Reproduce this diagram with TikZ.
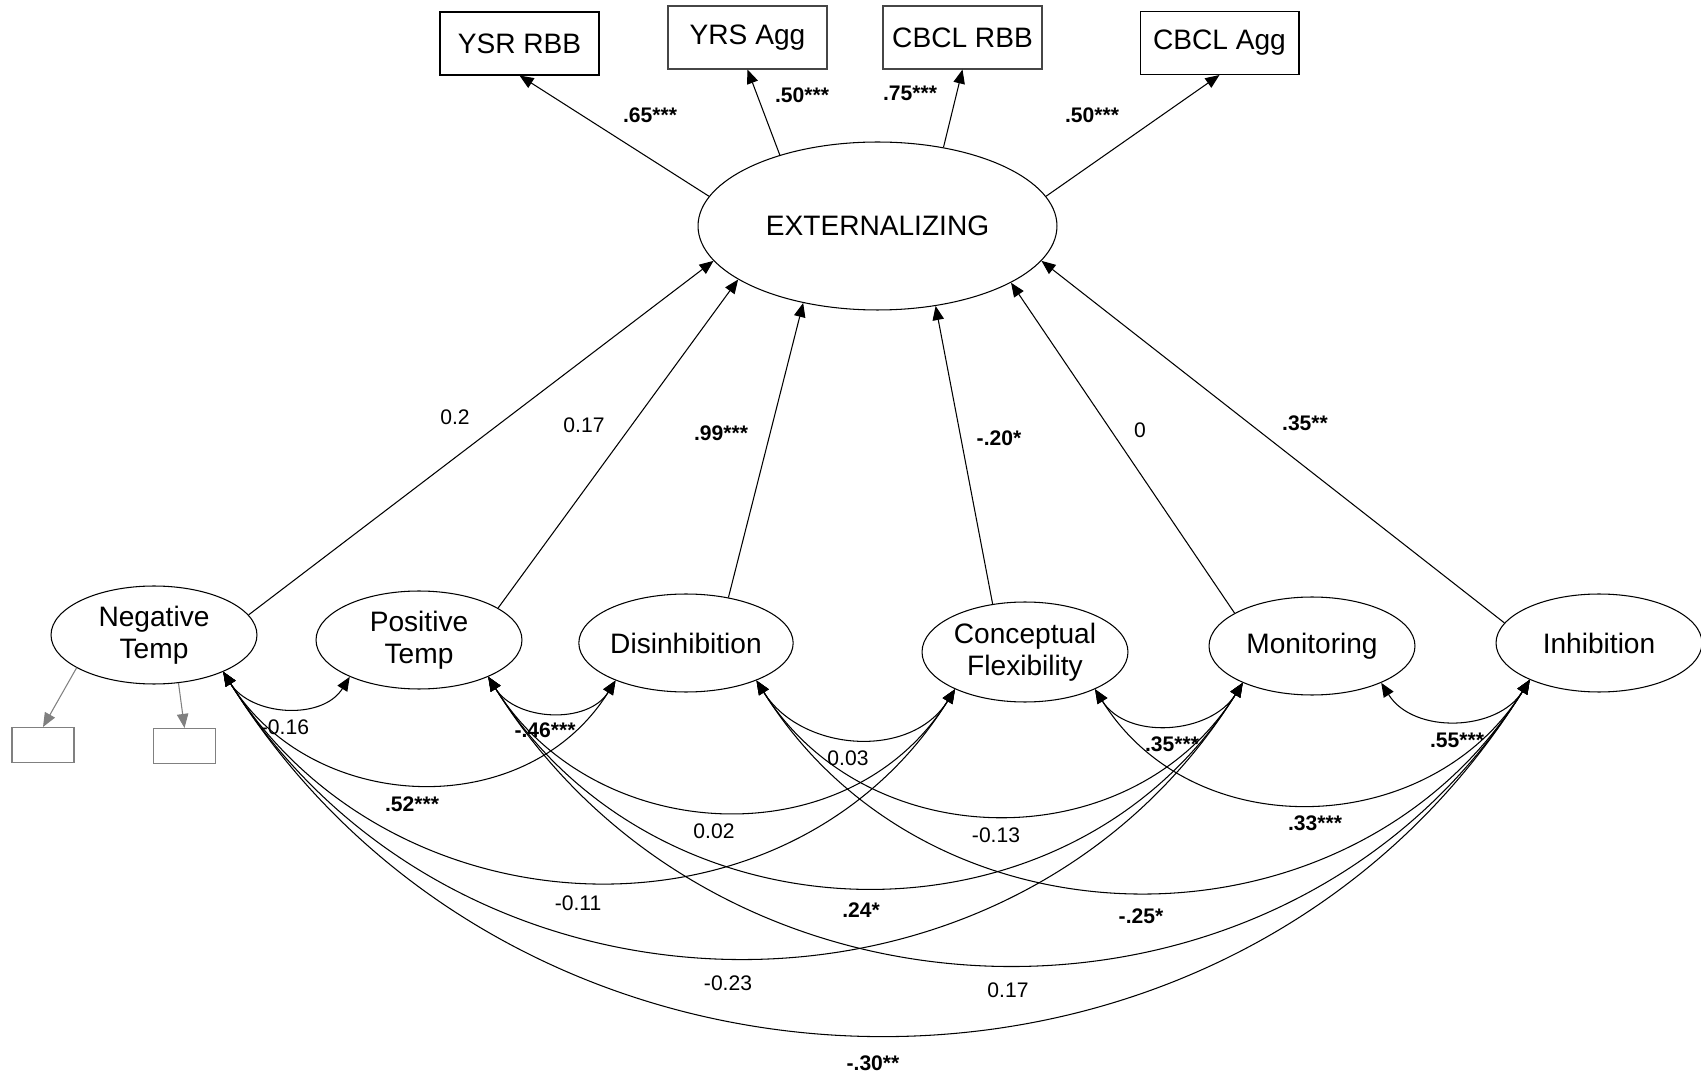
\documentclass[tikz,border=0pt]{standalone}
\usepackage{fontspec}
\setmainfont{Liberation Sans}
\usepackage{tikz}
\usetikzlibrary{arrows.meta, shapes.geometric}
\definecolor{SEMBlack}{RGB}{0, 0, 0}
\definecolor{SEMDark}{RGB}{70, 70, 70}
\definecolor{SEMGray}{RGB}{128, 128, 128}

\begin{document}
\begin{tikzpicture}[
    x=0.02cm, y=0.02cm,
    latent/.style={
        ellipse, draw=SEMBlack, line width=0.6pt, inner sep=0pt,
        minimum width=4.12cm, minimum height=1.96cm,
        align=center, font=\fontsize{16}{18}\selectfont
    },
    indic/.style={
        rectangle, draw=SEMBlack, line width=0.6pt,
        minimum width=3.18cm, minimum height=1.26cm,
        font=\fontsize{16}{18}\selectfont
    },
    resid/.style={
        rectangle, draw=SEMGray, line width=0.6pt,
        minimum width=1.24cm, minimum height=0.7cm
    },
    est/.style={inner sep=0pt, font=\fontsize{12}{14}\selectfont},
    sig/.style={inner sep=0pt, font=\fontsize{12}{14}\selectfont\bfseries},
    arr/.style={-{Triangle[length=8pt, width=6.5pt]}, line width=0.6pt, color=SEMBlack},
    resarr/.style={-{Triangle[length=8pt, width=6.5pt]}, line width=0.6pt, color=SEMGray},
    cov/.style={{Triangle[length=8pt, width=6.5pt]}-{Triangle[length=8pt, width=6.5pt]},
        line width=0.6pt, out=-58, in=-122, looseness=1.1}
]

\useasboundingbox (0,0) rectangle (1701,-1077);

\node[latent, minimum width=7.18cm, minimum height=3.36cm] (ext) at (877.5,-226) {EXTERNALIZING};

\node[indic] (ysr)   at (519.5,-43.5) {YSR RBB};
\node[indic, draw=SEMDark] (yrs)   at (747.5,-37.5) {YRS Agg};
\node[indic, draw=SEMDark] (cbclr) at (962.5,-37.5) {CBCL RBB};
\node[indic] (cbcla) at (1219.5,-43) {CBCL Agg};

\node[latent] (neg) at (154,-635)  {Negative\\Temp};
\node[latent] (pos) at (419,-640)  {Positive\\Temp};
\node[latent] (dis) at (686,-643)  {Disinhibition};
\node[latent, minimum height=2cm] (con) at (1025,-652) {Conceptual\\Flexibility};
\node[latent] (mon) at (1312,-646) {Monitoring};
\node[latent] (inh) at (1599,-643) {Inhibition};

\node[resid] (res1) at (43,-745)  {};
\node[resid] (res2) at (184.5,-746) {};

% loadings
\draw[arr] (ext.170) -- (ysr.south);
\draw[arr] (ext.144) -- (yrs.south);
\draw[arr] (ext.50)  -- (cbclr.south);
\draw[arr] (ext.10)  -- (cbcla.south);
\node[sig] (lysr)   at (650,-115)  {.65***};
\node[sig] (lyrs)   at (802,-95)   {.50***};
\node[sig] (lcbclr) at (910,-93)   {.75***};
\node[sig] (lcbcla) at (1092,-115) {.50***};

% paths
\draw[arr] (neg.12)  -- (ext.192);
\draw[arr] (pos.22)  -- (ext.201);
\draw[arr] (dis.47)  -- (ext.226);
\draw[arr] (con.124) -- (ext.-54);
\draw[arr] (mon.157) -- (ext.-23);
\draw[arr] (inh.168) -- (ext.-12);
\node[est] (bneg) at (455,-417)  {0.2};
\node[est] (bpos) at (584,-425)  {0.17};
\node[sig] (bdis) at (721,-433)  {.99***};
\node[sig] (bcon) at (999,-438)  {-.20*};
\node[est] (bmon) at (1140,-430) {0};
\node[sig] (binh) at (1305,-423) {.35**};

\draw[resarr] (neg.203) -- (res1.north);
\draw[resarr] (neg.-63) -- (res2.north);

% covariances
\draw[cov, looseness=1.05] (neg.-28) to (pos.208);
\draw[cov, looseness=1.05] (pos.-28) to (dis.208);
\draw[cov, looseness=1.08] (dis.-28) to (con.208);
\draw[cov, looseness=1.05] (con.-28) to (mon.208);
\draw[cov, looseness=1.05] (mon.-28) to (inh.208);
\draw[cov] (neg.-28) to (dis.208);
\draw[cov] (pos.-28) to (con.208);
\draw[cov] (dis.-28) to (mon.208);
\draw[cov] (con.-28) to (inh.208);
\draw[cov] (neg.-28) to (con.208);
\draw[cov] (pos.-28) to (mon.208);
\draw[cov] (dis.-28) to (inh.208);
\draw[cov] (neg.-28) to (mon.208);
\draw[cov] (pos.-28) to (inh.208);
\draw[cov] (neg.-28) to (inh.208);

\node[est] (cnp) at (285,-727)  {-0.16};
\node[sig] (cpd) at (545,-730)  {-.46***};
\node[sig] (cnd) at (412,-804)  {.52***};
\node[est] (cdc) at (848,-758)  {0.03};
\node[sig] (ccm) at (1172,-744) {.35***};
\node[sig] (cmi) at (1457,-740) {.55***};
\node[est] (cpc) at (714,-831)  {0.02};
\node[est] (cdm) at (996,-835)  {-0.13};
\node[sig] (cci) at (1315,-823) {.33***};
\node[est] (cnc) at (578,-903)  {-0.11};
\node[sig] (cpm) at (861,-910)  {.24*};
\node[sig] (cdi) at (1141,-916) {-.25*};
\node[est] (cnm) at (728,-983)  {-0.23};
\node[est] (cpi) at (1008,-990) {0.17};
\node[sig] (cni) at (873,-1063) {-.30**};

\end{tikzpicture}
\end{document}
